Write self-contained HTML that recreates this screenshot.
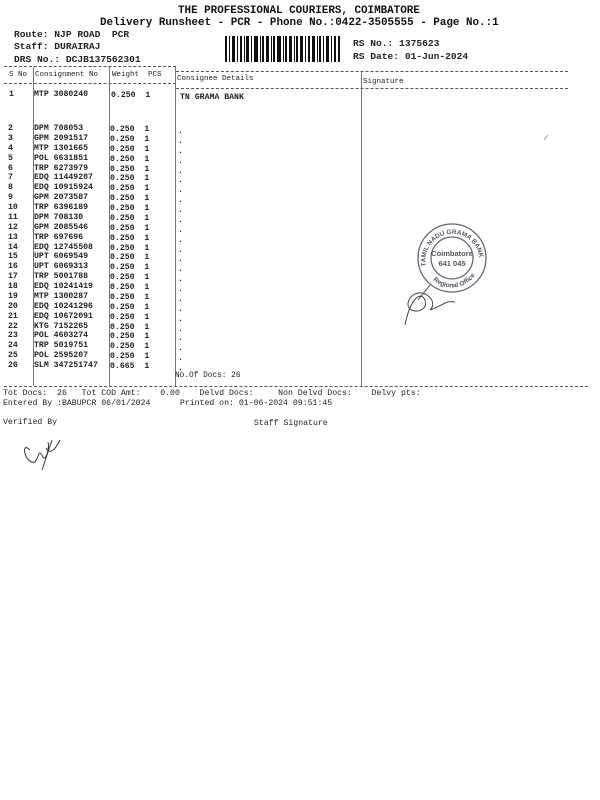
<!DOCTYPE html>
<html><head><meta charset="utf-8"><style>
body{margin:0;background:#fff;}
#p{position:relative;width:600px;height:800px;overflow:hidden;background:#fff;font-family:"Liberation Mono",monospace;color:#222;font-weight:bold;}
.t{position:absolute;white-space:pre;font-size:8.2px;line-height:10px;}
.h{position:absolute;white-space:pre;font-size:10.9px;font-weight:bold;color:#111;}
.m{position:absolute;white-space:pre;font-size:9.6px;color:#222;}
.dl{position:absolute;height:0;border-top:1px dashed #555;}
.vl{position:absolute;width:0;border-left:1px solid #777;}
.s{font-weight:normal;}
</style></head><body><div id="p">
<div class="h" style="left:178px;top:5px">THE PROFESSIONAL COURIERS, COIMBATORE</div>
<div class="h" style="left:100px;top:17px">Delivery Runsheet - PCR - Phone No.:0422-3505555 - Page No.:1</div>
<div class="m" style="left:14px;top:29px">Route: NJP ROAD  PCR</div>
<div class="m" style="left:14px;top:41px">Staff: DURAIRAJ</div>
<div class="m" style="left:14px;top:54px">DRS No.: DCJB137562301</div>
<div class="m" style="left:353px;top:38px">RS No.: 1375623</div>
<div class="m" style="left:353px;top:51px">RS Date: 01-Jun-2024</div>
<svg style="position:absolute;left:225px;top:36px" width="116" height="26">
<g fill="#111">
<rect x="0" y="0" width="2" height="26"/><rect x="4" y="0" width="1" height="26"/><rect x="7" y="0" width="3" height="26"/><rect x="12" y="0" width="1" height="26"/><rect x="15" y="0" width="2" height="26"/><rect x="19" y="0" width="1" height="26"/><rect x="21" y="0" width="3" height="26"/><rect x="26" y="0" width="1" height="26"/><rect x="29" y="0" width="4" height="26"/><rect x="35" y="0" width="1" height="26"/><rect x="37" y="0" width="2" height="26"/><rect x="41" y="0" width="3" height="26"/><rect x="46" y="0" width="1" height="26"/><rect x="48" y="0" width="2" height="26"/><rect x="52" y="0" width="4" height="26"/><rect x="58" y="0" width="1" height="26"/><rect x="60" y="0" width="2" height="26"/><rect x="64" y="0" width="3" height="26"/><rect x="69" y="0" width="1" height="26"/><rect x="71" y="0" width="2" height="26"/><rect x="75" y="0" width="3" height="26"/><rect x="80" y="0" width="1" height="26"/><rect x="83" y="0" width="2" height="26"/><rect x="87" y="0" width="3" height="26"/><rect x="92" y="0" width="1" height="26"/><rect x="94" y="0" width="2" height="26"/><rect x="98" y="0" width="1" height="26"/><rect x="101" y="0" width="3" height="26"/><rect x="106" y="0" width="1" height="26"/><rect x="109" y="0" width="2" height="26"/><rect x="113" y="0" width="2" height="26"/>
</g></svg>
<div class="dl" style="left:4px;top:66px;width:172px"></div>
<div class="dl" style="left:176px;top:71px;width:392px"></div>
<div class="dl" style="left:4px;top:83px;width:172px"></div>
<div class="dl" style="left:176px;top:88px;width:392px"></div>
<div class="dl" style="left:4px;top:386px;width:584px"></div>
<div class="vl" style="left:33px;top:67px;height:319px"></div>
<div class="vl" style="left:109px;top:67px;height:319px"></div>
<div class="vl" style="left:175px;top:67px;height:319px"></div>
<div class="vl" style="left:361px;top:72px;height:314px"></div>
<div class="t s" style="left:9px;top:70px;font-size:7.5px">S No</div>
<div class="t s" style="left:35px;top:70px;font-size:7.5px">Consignment No</div>
<div class="t s" style="left:112px;top:70px;font-size:7.5px">Weight  PCS</div>
<div class="t s" style="left:177px;top:74px;font-size:7.5px">Consignee Details</div>
<div class="t s" style="left:363px;top:77px;font-size:7.5px">Signature</div>
<div class="t" style="left:9px;top:90px">1</div>
<div class="t" style="left:34px;top:90px">MTP 3080240</div>
<div class="t" style="left:111px;top:91px">0.250  1</div>
<div class="t" style="left:180px;top:93px">TN GRAMA BANK</div>
<div class="t" style="left:8px;top:124px;line-height:9.87px">2
3
4
5
6
7
8
9
10
11
12
13
14
15
16
17
18
19
20
21
22
23
24
25
26</div>
<div class="t" style="left:34px;top:124px;line-height:9.87px">DPM 708053
GPM 2091517
MTP 1301665
POL 6631851
TRP 6273979
EDQ 11449207
EDQ 10915924
GPM 2073587
TRP 6396189
DPM 708130
GPM 2085546
TRP 697696
EDQ 12745508
UPT 6069549
UPT 6069313
TRP 5001788
EDQ 10241419
MTP 1300287
EDQ 10241296
EDQ 10672091
KTG 7152265
POL 4603274
TRP 5019751
POL 2595207
SLM 347251747</div>
<div class="t" style="left:110px;top:125px;line-height:9.87px">0.250  1
0.250  1
0.250  1
0.250  1
0.250  1
0.250  1
0.250  1
0.250  1
0.250  1
0.250  1
0.250  1
0.250  1
0.250  1
0.250  1
0.250  1
0.250  1
0.250  1
0.250  1
0.250  1
0.250  1
0.250  1
0.250  1
0.250  1
0.250  1
0.665  1</div>
<div class="t" style="left:178px;top:127px;line-height:9.87px">.
.
.
.
.
.
.
.
.
.
.
.
.
.
.
.
.
.
.
.
.
.
.
.
.</div>
<div class="t s" style="left:175px;top:371px;font-size:7.8px">No.Of Docs: 26</div>
<div class="t s" style="left:3px;top:389px;font-size:8.2px">Tot Docs:  26   Tot COD Amt:    0.00    Delvd Docs:     Non Delvd Docs:    Delvy pts:</div>
<div class="t s" style="left:3px;top:399px;font-size:8.2px">Entered By :BABUPCR 06/01/2024      Printed on: 01-06-2024 09:51:45</div>
<div class="t s" style="left:3px;top:418px;font-size:8.2px">Verified By</div>
<div class="t s" style="left:254px;top:419px;font-size:8.2px">Staff Signature</div>
<svg style="position:absolute;left:0;top:0" width="600" height="800">
<g fill="none" stroke="#667" stroke-width="1.3">
<circle cx="452" cy="258" r="34"/><circle cx="452" cy="258" r="21"/>
</g>
<text x="452" y="256" font-family="Liberation Sans,sans-serif" font-size="7.5" fill="#556" text-anchor="middle">Coimbatore</text>
<text x="452" y="266" font-family="Liberation Sans,sans-serif" font-size="7.5" fill="#556" text-anchor="middle">641 045</text>
<path id="arc" d="M426 266 A27 27 0 1 1 479 266" fill="none"/>
<text font-family="Liberation Sans,sans-serif" font-size="6.5" font-weight="bold" fill="#556"><textPath href="#arc">TAMIL NADU GRAMA BANK</textPath></text>
<path id="arc2" d="M427 272 A28 28 0 0 0 477 272" fill="none"/>
<text font-family="Liberation Sans,sans-serif" font-size="6.5" font-weight="bold" fill="#556"><textPath href="#arc2" startOffset="10">Regional Office</textPath></text>
<path d="M405 325 C410 300 420 290 425 300 C430 315 400 315 410 298 C420 285 440 300 430 310 C445 305 445 300 455 302 M418 300 L430 285" fill="none" stroke="#444" stroke-width="1"/>
<path d="M30 450 C20 440 25 465 35 462 C40 455 38 450 42 455 C45 465 50 448 48 442 M52 440 L42 470 M46 448 C50 455 55 450 60 440" fill="none" stroke="#333" stroke-width="1"/>
<path d="M544 140 L548 135" stroke="#999" stroke-width="1"/>
</g>
</svg>
</div></body></html>
